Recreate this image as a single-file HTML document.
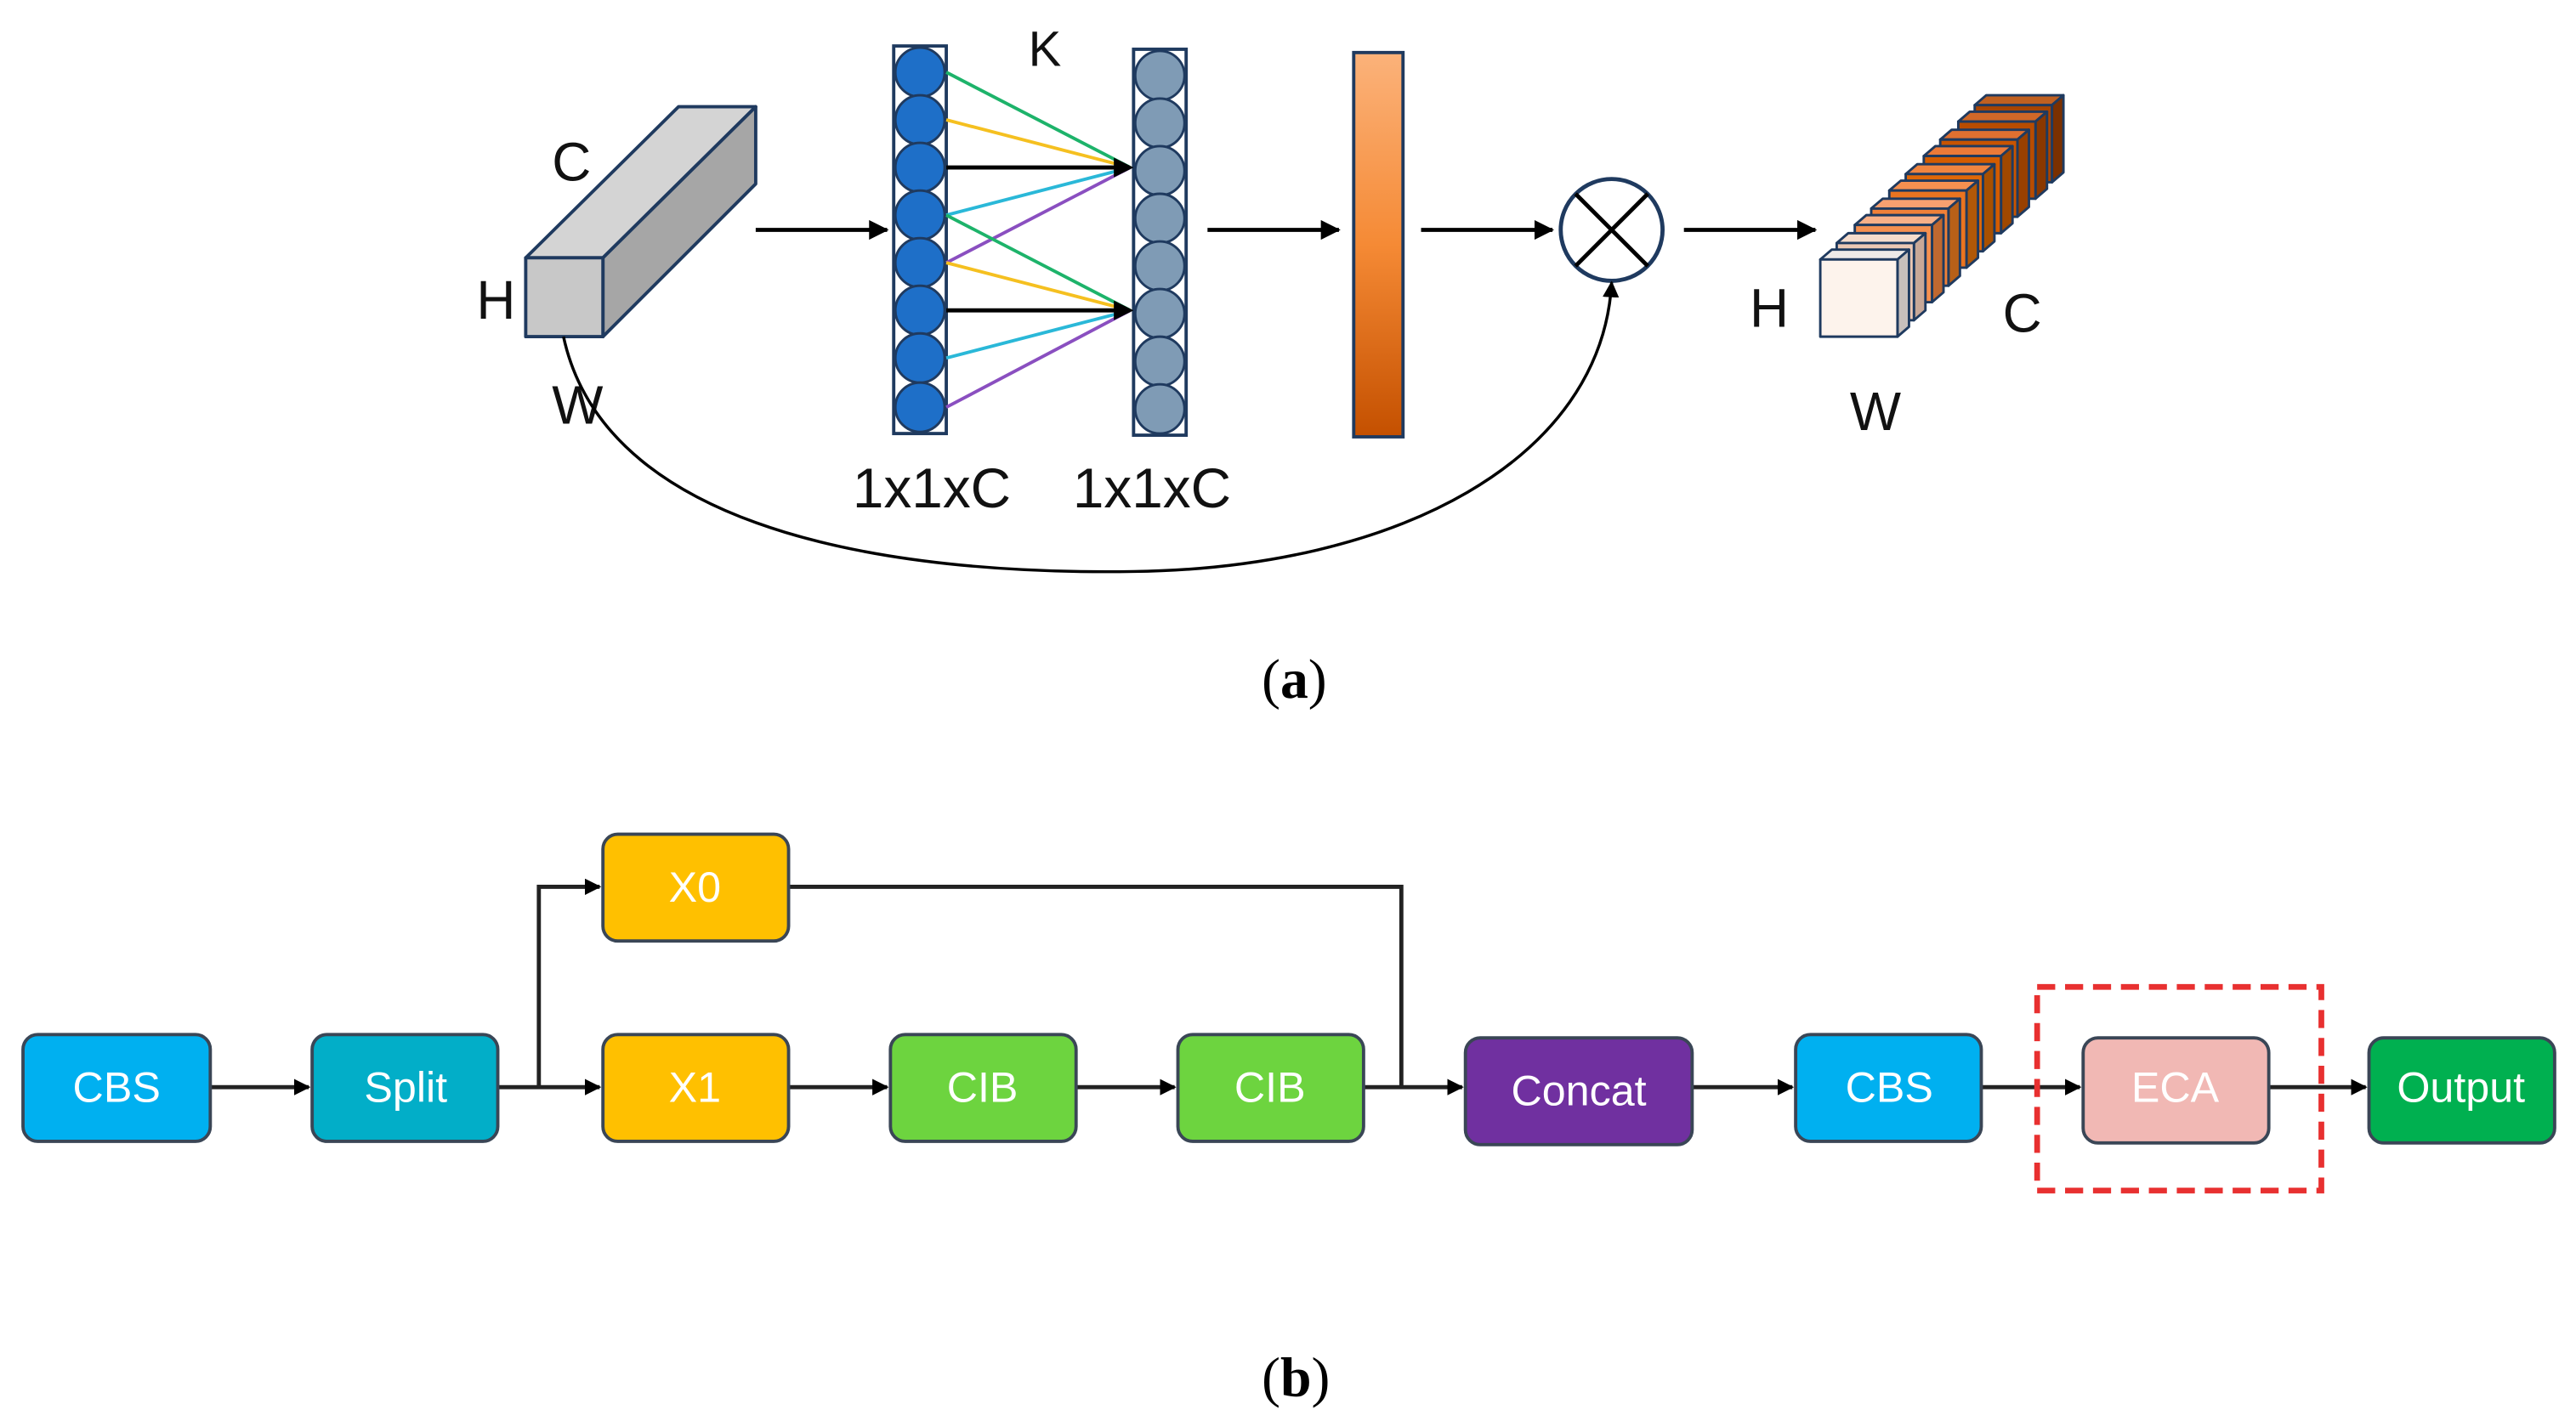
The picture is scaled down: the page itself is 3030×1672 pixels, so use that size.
<!DOCTYPE html>
<html><head><meta charset="utf-8"><style>
html,body{margin:0;padding:0;background:#fff;}
svg{display:block;}
</style></head><body>
<svg width="3030" height="1672" viewBox="0 0 1568 865.3" preserveAspectRatio="none" xmlns="http://www.w3.org/2000/svg" font-family="Liberation Sans, sans-serif">
<defs>
<marker id="ah" markerWidth="10" markerHeight="10" refX="9" refY="5" orient="auto" markerUnits="userSpaceOnUse"><path d="M0,0 L10,5 L0,10 z" fill="#000"/></marker>
<marker id="ah2" markerWidth="12" markerHeight="12" refX="11" refY="6" orient="auto" markerUnits="userSpaceOnUse"><path d="M0,0 L12,6 L0,12 z" fill="#000"/></marker>
<linearGradient id="og" x1="0" y1="0" x2="0" y2="1"><stop offset="0" stop-color="#fbb27a"/><stop offset="0.5" stop-color="#f58a35"/><stop offset="1" stop-color="#c45000"/></linearGradient>
</defs>
<g stroke="#1f3a5f" stroke-width="2" stroke-linejoin="round">
<polygon points="320,157 367,157 460,65 413,65" fill="#d4d4d4"/>
<polygon points="367,157 460,65 460,112 367,205" fill="#a6a6a6"/>
<rect x="320" y="157" width="47" height="48" fill="#c8c8c8"/>
</g>
<g font-size="33" fill="#111">
<text x="336" y="110">C</text>
<text x="290" y="194">H</text>
<text x="336" y="258">W</text>
<text x="626" y="40" font-size="30">K</text>
<text x="519" y="309" font-size="34">1x1xC</text>
<text x="653" y="309" font-size="34">1x1xC</text>
</g>
<line x1="460" y1="140" x2="540" y2="140" stroke="#000" stroke-width="2.5" marker-end="url(#ah2)"/>
<rect x="544" y="28" width="32" height="236" fill="#fff" stroke="#1f3a5f" stroke-width="2"/>
<g fill="#1e6fc8" stroke="#1f3a5f" stroke-width="1.5">
<ellipse cx="560" cy="44" rx="15" ry="15"/><ellipse cx="560" cy="73" rx="15" ry="15"/><ellipse cx="560" cy="102" rx="15" ry="15"/><ellipse cx="560" cy="131" rx="15" ry="15"/><ellipse cx="560" cy="160" rx="15" ry="15"/><ellipse cx="560" cy="189" rx="15" ry="15"/><ellipse cx="560" cy="218" rx="15" ry="15"/><ellipse cx="560" cy="248" rx="15" ry="15"/>
</g>
<rect x="690" y="30" width="32" height="235" fill="#fff" stroke="#1f3a5f" stroke-width="2"/>
<g fill="#7f9bb5" stroke="#1f3a5f" stroke-width="1.5">
<ellipse cx="706" cy="46" rx="15" ry="15"/><ellipse cx="706" cy="75" rx="15" ry="15"/><ellipse cx="706" cy="104" rx="15" ry="15"/><ellipse cx="706" cy="133" rx="15" ry="15"/><ellipse cx="706" cy="162" rx="15" ry="15"/><ellipse cx="706" cy="191" rx="15" ry="15"/><ellipse cx="706" cy="220" rx="15" ry="15"/><ellipse cx="706" cy="249" rx="15" ry="15"/>
</g>
<g stroke-width="2">
<line x1="576" y1="44" x2="688" y2="102" stroke="#1db36a"/>
<line x1="576" y1="73" x2="688" y2="102" stroke="#f5c020"/>
<line x1="576" y1="102" x2="682" y2="102" stroke="#000" stroke-width="2.5"/>
<line x1="576" y1="131" x2="688" y2="102" stroke="#2ab8d8"/>
<line x1="576" y1="160" x2="688" y2="102" stroke="#8a4fc0"/>
<line x1="576" y1="131" x2="688" y2="189" stroke="#1db36a"/>
<line x1="576" y1="160" x2="688" y2="189" stroke="#f5c020"/>
<line x1="576" y1="189" x2="682" y2="189" stroke="#000" stroke-width="2.5"/>
<line x1="576" y1="218" x2="688" y2="189" stroke="#2ab8d8"/>
<line x1="576" y1="248" x2="688" y2="189" stroke="#8a4fc0"/>
</g>
<path d="M678,96 L690,102 L678,108 z M678,183 L690,189 L678,195 z" fill="#000"/>
<line x1="735" y1="140" x2="815" y2="140" stroke="#000" stroke-width="2.5" marker-end="url(#ah2)"/>
<rect x="824" y="32" width="30" height="234" fill="url(#og)" stroke="#1f3a5f" stroke-width="2"/>
<line x1="865" y1="140" x2="945" y2="140" stroke="#000" stroke-width="2.5" marker-end="url(#ah2)"/>
<circle cx="981" cy="140" r="31" fill="#fff" stroke="#1f3a5f" stroke-width="2.5"/>
<line x1="959" y1="118" x2="1003" y2="162" stroke="#000" stroke-width="2.5"/>
<line x1="1003" y1="118" x2="959" y2="162" stroke="#000" stroke-width="2.5"/>
<line x1="1025" y1="140" x2="1105" y2="140" stroke="#000" stroke-width="2.5" marker-end="url(#ah2)"/>
<path d="M343,205 C370,330 560,350 690,348 C850,346 975,280 981,172" fill="none" stroke="#000" stroke-width="1.8" marker-end="url(#ah)"/>
<g stroke="#1f3a5f" stroke-width="1.5" stroke-linejoin="round">
<g transform="translate(94,-94)"><polygon points="1108,158 1155,158 1162,152 1115,152" fill="#c06020"/><polygon points="1155,158 1162,152 1162,199 1155,205" fill="#7a3000"/><rect x="1108" y="158" width="47" height="47" fill="#a84400"/></g>
<g transform="translate(84,-84)"><polygon points="1108,158 1155,158 1162,152 1115,152" fill="#d06828"/><polygon points="1155,158 1162,152 1162,199 1155,205" fill="#8a3800"/><rect x="1108" y="158" width="47" height="47" fill="#b84c00"/></g>
<g transform="translate(73,-73)"><polygon points="1108,158 1155,158 1162,152 1115,152" fill="#e07030"/><polygon points="1155,158 1162,152 1162,199 1155,205" fill="#984000"/><rect x="1108" y="158" width="47" height="47" fill="#c85400"/></g>
<g transform="translate(63,-63)"><polygon points="1108,158 1155,158 1162,152 1115,152" fill="#ec7a38"/><polygon points="1155,158 1162,152 1162,199 1155,205" fill="#a04800"/><rect x="1108" y="158" width="47" height="47" fill="#d45c00"/></g>
<g transform="translate(52,-52)"><polygon points="1108,158 1155,158 1162,152 1115,152" fill="#f08540"/><polygon points="1155,158 1162,152 1162,199 1155,205" fill="#a85000"/><rect x="1108" y="158" width="47" height="47" fill="#e06808"/></g>
<g transform="translate(42,-42)"><polygon points="1108,158 1155,158 1162,152 1115,152" fill="#f59050"/><polygon points="1155,158 1162,152 1162,199 1155,205" fill="#b05808"/><rect x="1108" y="158" width="47" height="47" fill="#ea7420"/></g>
<g transform="translate(31,-31)"><polygon points="1108,158 1155,158 1162,152 1115,152" fill="#f8a070"/><polygon points="1155,158 1162,152 1162,199 1155,205" fill="#b86018"/><rect x="1108" y="158" width="47" height="47" fill="#f08038"/></g>
<g transform="translate(21,-21)"><polygon points="1108,158 1155,158 1162,152 1115,152" fill="#f8b088"/><polygon points="1155,158 1162,152 1162,199 1155,205" fill="#c06830"/><rect x="1108" y="158" width="47" height="47" fill="#f59050"/></g>
<g transform="translate(10,-10)"><polygon points="1108,158 1155,158 1162,152 1115,152" fill="#f5dccc"/><polygon points="1155,158 1162,152 1162,199 1155,205" fill="#c8a898"/><rect x="1108" y="158" width="47" height="47" fill="#ecc8b4"/></g>
<polygon points="1108,158 1155,158 1162,152 1115,152" fill="#eeeae8"/><polygon points="1155,158 1162,152 1162,199 1155,205" fill="#c8c0bc"/><rect x="1108" y="158" width="47" height="47" fill="#fdf3ec"/>
</g>
<g font-size="33" fill="#111">
<text x="1065" y="199">H</text>
<text x="1219" y="202">C</text>
<text x="1126" y="262">W</text>
</g>
<text x="768" y="425" font-family="Liberation Serif, serif" font-size="34" fill="#000">(<tspan font-weight="bold">a</tspan>)</text>
<g stroke="#222" stroke-width="2.5" fill="none">
<line x1="128" y1="662" x2="188" y2="662" marker-end="url(#ah)"/>
<line x1="303" y1="662" x2="365" y2="662" marker-end="url(#ah)"/>
<polyline points="328,662 328,540 365,540" marker-end="url(#ah)"/>
<line x1="480" y1="662" x2="540" y2="662" marker-end="url(#ah)"/>
<line x1="655" y1="662" x2="715" y2="662" marker-end="url(#ah)"/>
<polyline points="480,540 853,540 853,662"/>
<line x1="830" y1="662" x2="890" y2="662" marker-end="url(#ah)"/>
<line x1="1030" y1="662" x2="1091" y2="662" marker-end="url(#ah)"/>
<line x1="1206" y1="662" x2="1266" y2="662" marker-end="url(#ah)"/>
<line x1="1381" y1="662" x2="1440" y2="662" marker-end="url(#ah)"/>
</g>
<g stroke="#3a4656" stroke-width="2">
<rect x="14" y="630" width="114" height="65" rx="9" fill="#00b0f0"/>
<rect x="190" y="630" width="113" height="65" rx="9" fill="#02aec8"/>
<rect x="367" y="508" width="113" height="65" rx="9" fill="#ffc000"/>
<rect x="367" y="630" width="113" height="65" rx="9" fill="#ffc000"/>
<rect x="542" y="630" width="113" height="65" rx="9" fill="#6dd43f"/>
<rect x="717" y="630" width="113" height="65" rx="9" fill="#6dd43f"/>
<rect x="892" y="632" width="138" height="65" rx="9" fill="#7030a0"/>
<rect x="1093" y="630" width="113" height="65" rx="9" fill="#00b0f0"/>
<rect x="1268" y="632" width="113" height="64" rx="9" fill="#f1b8b4"/>
<rect x="1442" y="632" width="113" height="64" rx="9" fill="#00b050"/>
</g>
<rect x="1240" y="601" width="173" height="124" fill="none" stroke="#e83030" stroke-width="3.5" stroke-dasharray="11,6"/>
<g font-size="26" fill="#fff" text-anchor="middle">
<text x="71" y="671">CBS</text>
<text x="247" y="671">Split</text>
<text x="423" y="549">X0</text>
<text x="423" y="671">X1</text>
<text x="598" y="671">CIB</text>
<text x="773" y="671">CIB</text>
<text x="961" y="673">Concat</text>
<text x="1150" y="671">CBS</text>
<text x="1324" y="671">ECA</text>
<text x="1498" y="671">Output</text>
</g>
<text x="768" y="850" font-family="Liberation Serif, serif" font-size="34" fill="#000">(<tspan font-weight="bold">b</tspan>)</text>
</svg>
</body></html>
